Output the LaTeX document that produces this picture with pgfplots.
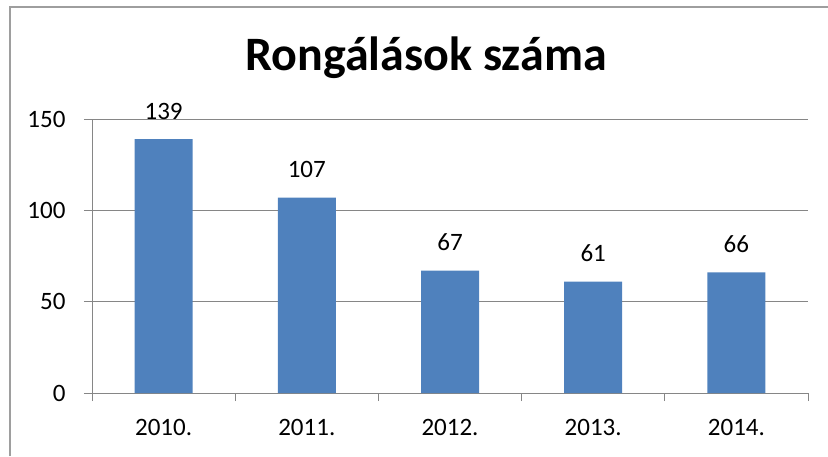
\documentclass[border=0pt]{standalone}
\usepackage{pgfplots}
\pgfplotsset{compat=1.18}
\usepackage{fontspec}
\setmainfont{Carlito}
\definecolor{barblue}{RGB}{79,129,189}
\definecolor{gridgray}{RGB}{134,134,134}
\begin{document}
\begin{tikzpicture}[x=1pt,y=1pt]
\path[use as bounding box] (0,0) rectangle (828,456);
\draw[gridgray!80, line width=1.5pt] (10,0) -- (10,449) -- (828,449);
\node[font=\fontsize{48}{52}\selectfont\bfseries] at (426,398) {Rongálások száma};
\begin{axis}[
  at={(92pt,63pt)}, anchor=south west,
  width=716pt, height=274pt, scale only axis,
  xmin=-0.5, xmax=4.5, ymin=0, ymax=150,
  axis lines*=left,
  axis line style={gridgray, line width=0.8pt},
  xtick={0,1,2,3,4},
  xticklabels={2010.,2011.,2012.,2013.,2014.},
  minor xtick={-0.5,0.5,1.5,2.5,3.5,4.5},
  major x tick style={draw=none},
  minor tick length=8pt,
  ytick={0,50,100,150},
  major tick length=8pt,
  tick align=outside,
  tick style={gridgray, line width=0.8pt},
  ymajorgrids,
  grid style={gridgray, line width=0.8pt},
  tick label style={font=\fontsize{25}{28}\selectfont},
  /pgf/number format/assume math mode=true,
  yticklabel style={xshift=-15pt},
  xticklabel style={yshift=-15pt},
  ybar, bar width=58pt,
  nodes near coords,
  every node near coord/.append style={font=\fontsize{25}{28}\selectfont, yshift=16pt},
  clip=false,
]
\addplot[fill=barblue, draw=none] coordinates {(0,139) (1,107) (2,67) (3,61) (4,66)};
\end{axis}
\end{tikzpicture}
\end{document}
